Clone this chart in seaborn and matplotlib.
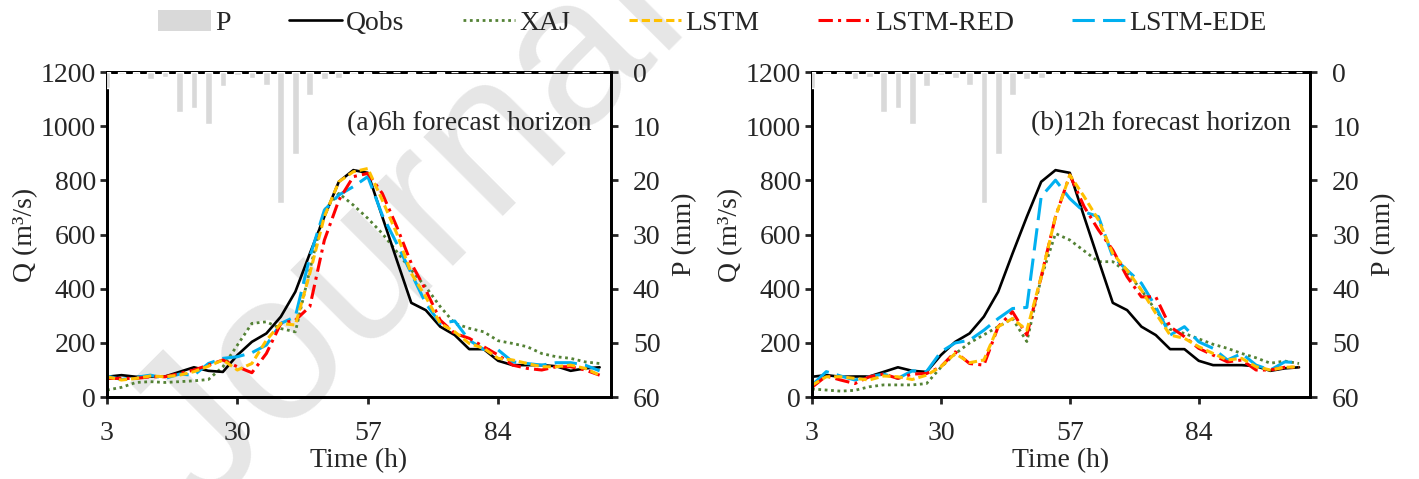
import numpy as np
import pandas as pd
import seaborn as sns
import matplotlib.pyplot as plt
from matplotlib.patches import Patch
from matplotlib.lines import Line2D

# ---- data ----
time_h = list(range(3, 106, 3))

precip = [2.9, 0.4, 0.4, 1.2, 0.9, 7.3, 6.7, 9.5, 2.6, 0.6, 1.0, 2.4,
          24.1, 15.2, 4.3, 1.2, 1.0, 0.4, 0.3, 0, 0, 0.3, 0, 0.3,
          0, 0, 0, 0, 0, 0, 0, 0, 0, 0, 0]

q_obs = [75, 81, 75, 76, 76, 93, 110, 97, 93, 155, 204, 235, 297, 389, 530,
         666, 795, 838, 828, 666, 506, 348, 321, 260, 229, 177, 177, 134,
         118, 118, 118, 114, 97, 106, 110]

# (a) 6h forecast horizon
xaj_6h = [26, 36, 54, 57, 54, 57, 60, 65, 112, 192, 272, 278, 253, 241, 469,
          690, 752, 709, 660, 604, 537, 469, 407, 334, 272, 254, 241, 208,
          198, 186, 161, 149, 143, 130, 124]
lstm_6h = [75, 63, 69, 78, 75, 81, 94, 114, 137, 100, 124, 210, 272, 266, 457,
           666, 795, 832, 844, 727, 604, 457, 370, 272, 241, 198, 180, 143,
           137, 124, 112, 112, 118, 106, 81]
red_6h = [69, 69, 69, 75, 75, 87, 100, 118, 137, 112, 90, 161, 272, 284, 334,
          579, 727, 814, 826, 752, 629, 494, 395, 284, 235, 217, 186, 155,
          118, 106, 100, 112, 112, 100, 81]
ede_6h = [78, 65, 73, 81, 69, 85, 81, 124, 143, 149, 164, 192, 272, 297, 518,
          690, 746, 777, 814, 672, 567, 457, 346, 272, 281, 210, 176, 174,
          130, 124, 118, 127, 127, 118, 97]

# (b) 12h forecast horizon
xaj_12h = [30, 26, 22, 25, 38, 45, 45, 45, 50, 110, 160, 200, 230, 260, 290,
           205, 440, 604, 580, 540, 500, 500, 460, 395, 320, 250, 235, 215,
           195, 180, 161, 145, 125, 133, 124]
lstm_12h = [44, 75, 75, 69, 63, 78, 75, 65, 81, 112, 161, 127, 137, 260, 290,
            247, 444, 666, 820, 740, 654, 530, 468, 395, 309, 229, 217, 186,
            161, 137, 143, 112, 100, 110, 112]
red_12h = [36, 78, 63, 50, 75, 85, 69, 85, 87, 112, 167, 124, 118, 260, 315,
           229, 444, 666, 820, 703, 617, 543, 444, 370, 370, 260, 223, 180,
           155, 130, 137, 100, 100, 110, 110]
ede_12h = [44, 94, 78, 63, 75, 85, 69, 97, 94, 167, 200, 210, 247, 290, 327,
           331, 740, 801, 733, 684, 666, 518, 469, 420, 333, 229, 260, 204,
           180, 137, 161, 118, 100, 130, 127]

panels = [
    ("(a)6h forecast horizon", xaj_6h, lstm_6h, red_6h, ede_6h),
    ("(b)12h forecast horizon", xaj_12h, lstm_12h, red_12h, ede_12h),
]

# ---- style ----
sns.set_style("ticks")
plt.rcParams['font.family'] = ['Liberation Serif', 'DejaVu Serif']
plt.rcParams['font.size'] = 20

bar_color = '#d9d9d9'
styles = {
    'Qobs':     dict(color='black', lw=1.9, ls='-'),
    'XAJ':      dict(color='#548235', lw=2.0, ls=(0, (1, 1.3))),
    'LSTM':     dict(color='#FFC000', lw=2.2, ls=(0, (2.7, 1.3))),
    'LSTM-RED': dict(color='#FF0000', lw=2.2, ls=(0, (4.7, 1.7, 1, 1.7))),
    'LSTM-EDE': dict(color='#00B0F0', lw=2.2, ls=(0, (7.3, 2.7))),
}

fig = plt.figure(figsize=(14.19, 4.79), dpi=100)

# watermark behind everything
fig.text(0.288, 0.52, 'Journal', fontsize=152, color='#e6e6e6', rotation=45,
         ha='center', va='center', rotation_mode='anchor',
         family='Liberation Sans', zorder=-1)

boxes = [[0.0754, 0.171, 0.355, 0.6785], [0.5722, 0.171, 0.351, 0.6785]]

for box, (title, xaj, lstm, red, ede) in zip(boxes, panels):
    ax = fig.add_axes(box)
    ax.set_facecolor('none')

    df = pd.DataFrame({'t': time_h, 'Qobs': q_obs, 'XAJ': xaj, 'LSTM': lstm,
                       'LSTM-RED': red, 'LSTM-EDE': ede})
    for name in ['XAJ', 'Qobs', 'LSTM-EDE', 'LSTM-RED', 'LSTM']:
        st = styles[name]
        sns.lineplot(data=df, x='t', y=name, ax=ax, color=st['color'],
                     linewidth=st['lw'], linestyle=st['ls'])

    ax.set_xlim(3, 107.3)
    ax.set_ylim(0, 1200)
    ax.set_xticks([3, 30, 57, 84])
    ax.set_yticks(range(0, 1201, 200))
    ax.set_xlabel('Time (h)', labelpad=2)
    ax.set_ylabel('Q (m³/s)', labelpad=2)
    ax.tick_params(axis='x', direction='out', length=5, width=2, pad=12)
    ax.tick_params(axis='y', direction='out', length=5, width=2, pad=3)
    for sp in ax.spines.values():
        sp.set_linewidth(2)
        sp.set_color('black')

    ax.text(0.962, 0.843, title, transform=ax.transAxes, ha='right',
            va='center', fontsize=20)

    # precipitation on inverted secondary axis
    ax2 = ax.twinx()
    ax2.bar(time_h, precip, width=1.4, color=bar_color, zorder=3)
    ax2.set_ylim(60, 0)
    ax2.set_yticks(range(0, 61, 10))
    ax2.set_ylabel('P (mm)', labelpad=8)
    ax2.tick_params(axis='y', direction='out', length=5, width=2, pad=11)
    for sp in ax2.spines.values():
        sp.set_linewidth(2)
        sp.set_color('black')

# ---- legend ----
handles = [Patch(facecolor=bar_color, edgecolor='none')]
labels = ['P']
for name in ['Qobs', 'XAJ', 'LSTM', 'LSTM-RED', 'LSTM-EDE']:
    st = styles[name]
    handles.append(Line2D([], [], color=st['color'], lw=st['lw'], ls=st['ls']))
    labels.append(name)
fig.legend(handles, labels, loc='upper center', bbox_to_anchor=(0.502, 0.985),
           ncol=6, frameon=False, fontsize=20, handlelength=1.9,
           handleheight=0.8, handletextpad=0.15, columnspacing=2.1,
           borderaxespad=0, borderpad=0.1)

plt.savefig('out.png', dpi=100)
